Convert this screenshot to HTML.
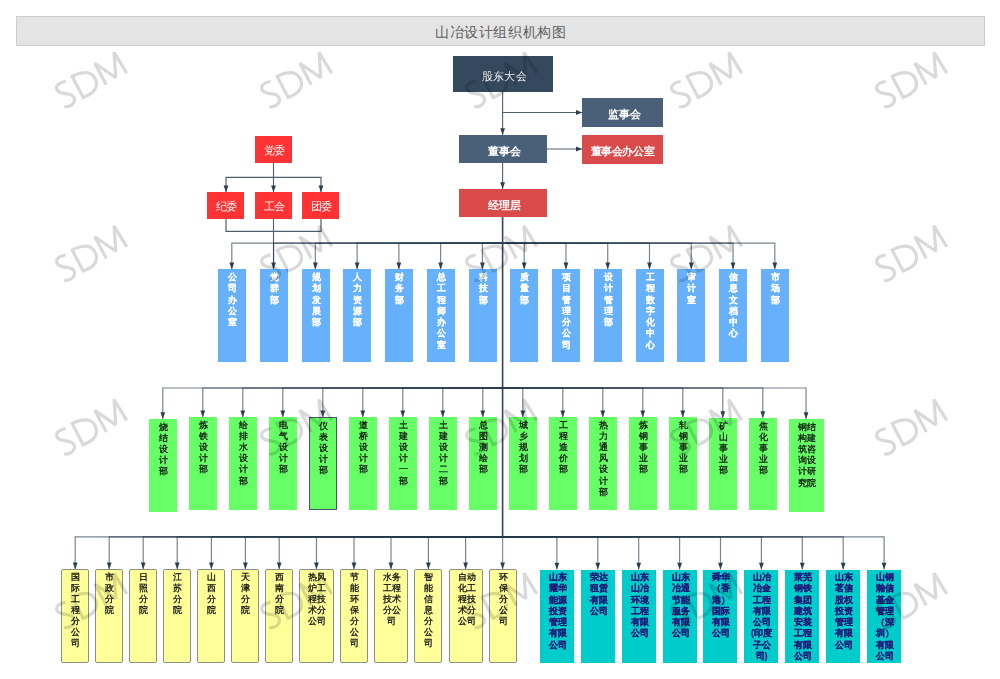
<!DOCTYPE html>
<html><head><meta charset="utf-8">
<style>
html,body{margin:0;padding:0;background:#fff;}
body{width:1000px;height:679px;position:relative;overflow:hidden;font-family:"Liberation Sans", sans-serif;}
.bx{position:absolute;overflow:hidden;white-space:nowrap;will-change:transform;}
.title{position:absolute;left:16px;top:16px;width:969px;height:30px;box-sizing:border-box;background:#e4e4e4;border:1px solid #cdcdcd;color:#5e5e5e;font-size:14px;letter-spacing:0.6px;text-indent:0.6px;line-height:31px;text-align:center;}
svg{position:absolute;left:0;top:0;} .wmsvg{pointer-events:none;}
.wm{position:absolute;width:120px;height:40px;line-height:40px;text-align:center;font-size:41px;color:rgba(0,0,0,0.16);transform:rotate(-30deg) scaleX(0.86);letter-spacing:0px;white-space:nowrap;}
</style></head><body>
<div class="title">山冶设计组织机构图</div>
<svg width="1000" height="679" viewBox="0 0 1000 679"><line x1="502.6" y1="92" x2="502.6" y2="135" stroke="#4f5e70" stroke-width="1.1"/><polygon points="500.20000000000005,128.2 505.0,128.2 502.6,135" fill="#2e3e52"/><line x1="502.6" y1="112.5" x2="582" y2="112.5" stroke="#4f5e70" stroke-width="1.1"/><polygon points="576,109.9 576,115.1 582,112.5" fill="#2e3e52"/><line x1="546" y1="149" x2="582" y2="149" stroke="#4f5e70" stroke-width="1.1"/><polygon points="576,146.4 576,151.6 582,149" fill="#2e3e52"/><line x1="502.6" y1="163" x2="502.6" y2="189" stroke="#4f5e70" stroke-width="1.1"/><polygon points="500.20000000000005,182.2 505.0,182.2 502.6,189" fill="#2e3e52"/><line x1="273.5" y1="162.5" x2="273.5" y2="269.4" stroke="#4f5e70" stroke-width="1.1"/><polyline points="226,192.2 226,177.3 321,177.3 321,192.2" fill="none" stroke="#4f5e70" stroke-width="1.2"/><polygon points="223.6,185.39999999999998 228.4,185.39999999999998 226,192.2" fill="#2e3e52"/><polygon points="271.1,185.39999999999998 275.9,185.39999999999998 273.5,192.2" fill="#2e3e52"/><polygon points="318.6,185.39999999999998 323.4,185.39999999999998 321,192.2" fill="#2e3e52"/><polyline points="226,218.7 226,231.4 321,231.4 321,218.7" fill="none" stroke="#4f5e70" stroke-width="1.2"/><path d="M502.6,243.1 H231.8 V269.4" fill="none" stroke="rgba(40,56,78,0.62)" stroke-width="1.2"/><polygon points="229.4,262.59999999999997 234.20000000000002,262.59999999999997 231.8,269.4" fill="#2e3e52"/><path d="M502.6,243.1 H273.57 V269.4" fill="none" stroke="rgba(40,56,78,0.62)" stroke-width="1.2"/><polygon points="271.17,262.59999999999997 275.96999999999997,262.59999999999997 273.57,269.4" fill="#2e3e52"/><path d="M502.6,243.1 H315.34000000000003 V269.4" fill="none" stroke="rgba(40,56,78,0.62)" stroke-width="1.2"/><polygon points="312.94000000000005,262.59999999999997 317.74,262.59999999999997 315.34000000000003,269.4" fill="#2e3e52"/><path d="M502.6,243.1 H357.11 V269.4" fill="none" stroke="rgba(40,56,78,0.62)" stroke-width="1.2"/><polygon points="354.71000000000004,262.59999999999997 359.51,262.59999999999997 357.11,269.4" fill="#2e3e52"/><path d="M502.6,243.1 H398.88000000000005 V269.4" fill="none" stroke="rgba(40,56,78,0.62)" stroke-width="1.2"/><polygon points="396.4800000000001,262.59999999999997 401.28000000000003,262.59999999999997 398.88000000000005,269.4" fill="#2e3e52"/><path d="M502.6,243.1 H440.65000000000003 V269.4" fill="none" stroke="rgba(40,56,78,0.62)" stroke-width="1.2"/><polygon points="438.25000000000006,262.59999999999997 443.05,262.59999999999997 440.65000000000003,269.4" fill="#2e3e52"/><path d="M502.6,243.1 H482.42 V269.4" fill="none" stroke="rgba(40,56,78,0.62)" stroke-width="1.2"/><polygon points="480.02000000000004,262.59999999999997 484.82,262.59999999999997 482.42,269.4" fill="#2e3e52"/><path d="M502.6,243.1 H524.19 V269.4" fill="none" stroke="rgba(40,56,78,0.62)" stroke-width="1.2"/><polygon points="521.7900000000001,262.59999999999997 526.59,262.59999999999997 524.19,269.4" fill="#2e3e52"/><path d="M502.6,243.1 H565.96 V269.4" fill="none" stroke="rgba(40,56,78,0.62)" stroke-width="1.2"/><polygon points="563.5600000000001,262.59999999999997 568.36,262.59999999999997 565.96,269.4" fill="#2e3e52"/><path d="M502.6,243.1 H607.73 V269.4" fill="none" stroke="rgba(40,56,78,0.62)" stroke-width="1.2"/><polygon points="605.33,262.59999999999997 610.13,262.59999999999997 607.73,269.4" fill="#2e3e52"/><path d="M502.6,243.1 H649.5 V269.4" fill="none" stroke="rgba(40,56,78,0.62)" stroke-width="1.2"/><polygon points="647.1,262.59999999999997 651.9,262.59999999999997 649.5,269.4" fill="#2e3e52"/><path d="M502.6,243.1 H691.27 V269.4" fill="none" stroke="rgba(40,56,78,0.62)" stroke-width="1.2"/><polygon points="688.87,262.59999999999997 693.67,262.59999999999997 691.27,269.4" fill="#2e3e52"/><path d="M502.6,243.1 H733.04 V269.4" fill="none" stroke="rgba(40,56,78,0.62)" stroke-width="1.2"/><polygon points="730.64,262.59999999999997 735.4399999999999,262.59999999999997 733.04,269.4" fill="#2e3e52"/><path d="M502.6,243.1 H774.81 V269.4" fill="none" stroke="rgba(40,56,78,0.62)" stroke-width="1.2"/><polygon points="772.41,262.59999999999997 777.2099999999999,262.59999999999997 774.81,269.4" fill="#2e3e52"/><line x1="502.6" y1="217" x2="502.6" y2="536.9" stroke="#34445a" stroke-width="1.6"/><line x1="502.6" y1="536.9" x2="502.6" y2="569.0" stroke="#8590a0" stroke-width="1.3"/><path d="M502.6,388.0 H162.8 V419" fill="none" stroke="rgba(40,56,78,0.62)" stroke-width="1.2"/><polygon points="160.4,412.2 165.20000000000002,412.2 162.8,419" fill="#2e3e52"/><path d="M502.6,388.0 H202.8 V417.2" fill="none" stroke="rgba(40,56,78,0.62)" stroke-width="1.2"/><polygon points="200.4,410.4 205.20000000000002,410.4 202.8,417.2" fill="#2e3e52"/><path d="M502.6,388.0 H242.8 V417.2" fill="none" stroke="rgba(40,56,78,0.62)" stroke-width="1.2"/><polygon points="240.4,410.4 245.20000000000002,410.4 242.8,417.2" fill="#2e3e52"/><path d="M502.6,388.0 H282.8 V417.2" fill="none" stroke="rgba(40,56,78,0.62)" stroke-width="1.2"/><polygon points="280.40000000000003,410.4 285.2,410.4 282.8,417.2" fill="#2e3e52"/><path d="M502.6,388.0 H322.8 V417.2" fill="none" stroke="rgba(40,56,78,0.62)" stroke-width="1.2"/><polygon points="320.40000000000003,410.4 325.2,410.4 322.8,417.2" fill="#2e3e52"/><path d="M502.6,388.0 H362.8 V417.2" fill="none" stroke="rgba(40,56,78,0.62)" stroke-width="1.2"/><polygon points="360.40000000000003,410.4 365.2,410.4 362.8,417.2" fill="#2e3e52"/><path d="M502.6,388.0 H402.8 V417.2" fill="none" stroke="rgba(40,56,78,0.62)" stroke-width="1.2"/><polygon points="400.40000000000003,410.4 405.2,410.4 402.8,417.2" fill="#2e3e52"/><path d="M502.6,388.0 H442.8 V417.2" fill="none" stroke="rgba(40,56,78,0.62)" stroke-width="1.2"/><polygon points="440.40000000000003,410.4 445.2,410.4 442.8,417.2" fill="#2e3e52"/><path d="M502.6,388.0 H482.8 V417.2" fill="none" stroke="rgba(40,56,78,0.62)" stroke-width="1.2"/><polygon points="480.40000000000003,410.4 485.2,410.4 482.8,417.2" fill="#2e3e52"/><path d="M502.6,388.0 H522.8 V417.2" fill="none" stroke="rgba(40,56,78,0.62)" stroke-width="1.2"/><polygon points="520.4,410.4 525.1999999999999,410.4 522.8,417.2" fill="#2e3e52"/><path d="M502.6,388.0 H562.8 V417.2" fill="none" stroke="rgba(40,56,78,0.62)" stroke-width="1.2"/><polygon points="560.4,410.4 565.1999999999999,410.4 562.8,417.2" fill="#2e3e52"/><path d="M502.6,388.0 H602.8 V417.2" fill="none" stroke="rgba(40,56,78,0.62)" stroke-width="1.2"/><polygon points="600.4,410.4 605.1999999999999,410.4 602.8,417.2" fill="#2e3e52"/><path d="M502.6,388.0 H642.8 V417.2" fill="none" stroke="rgba(40,56,78,0.62)" stroke-width="1.2"/><polygon points="640.4,410.4 645.1999999999999,410.4 642.8,417.2" fill="#2e3e52"/><path d="M502.6,388.0 H682.8 V417.2" fill="none" stroke="rgba(40,56,78,0.62)" stroke-width="1.2"/><polygon points="680.4,410.4 685.1999999999999,410.4 682.8,417.2" fill="#2e3e52"/><path d="M502.6,388.0 H722.8 V418" fill="none" stroke="rgba(40,56,78,0.62)" stroke-width="1.2"/><polygon points="720.4,411.2 725.1999999999999,411.2 722.8,418" fill="#2e3e52"/><path d="M502.6,388.0 H762.8 V418" fill="none" stroke="rgba(40,56,78,0.62)" stroke-width="1.2"/><polygon points="760.4,411.2 765.1999999999999,411.2 762.8,418" fill="#2e3e52"/><path d="M502.6,388.0 H806.05 V419" fill="none" stroke="rgba(40,56,78,0.62)" stroke-width="1.2"/><polygon points="803.65,412.2 808.4499999999999,412.2 806.05,419" fill="#2e3e52"/><path d="M502.6,536.9 H75.2 V569.2" fill="none" stroke="rgba(40,56,78,0.62)" stroke-width="1.2"/><polygon points="72.8,562.4000000000001 77.60000000000001,562.4000000000001 75.2,569.2" fill="#2e3e52"/><path d="M502.6,536.9 H109.2 V569.2" fill="none" stroke="rgba(40,56,78,0.62)" stroke-width="1.2"/><polygon points="106.8,562.4000000000001 111.60000000000001,562.4000000000001 109.2,569.2" fill="#2e3e52"/><path d="M502.6,536.9 H143.2 V569.2" fill="none" stroke="rgba(40,56,78,0.62)" stroke-width="1.2"/><polygon points="140.79999999999998,562.4000000000001 145.6,562.4000000000001 143.2,569.2" fill="#2e3e52"/><path d="M502.6,536.9 H177.2 V569.2" fill="none" stroke="rgba(40,56,78,0.62)" stroke-width="1.2"/><polygon points="174.79999999999998,562.4000000000001 179.6,562.4000000000001 177.2,569.2" fill="#2e3e52"/><path d="M502.6,536.9 H211.4 V569.2" fill="none" stroke="rgba(40,56,78,0.62)" stroke-width="1.2"/><polygon points="209.0,562.4000000000001 213.8,562.4000000000001 211.4,569.2" fill="#2e3e52"/><path d="M502.6,536.9 H245.4 V569.2" fill="none" stroke="rgba(40,56,78,0.62)" stroke-width="1.2"/><polygon points="243.0,562.4000000000001 247.8,562.4000000000001 245.4,569.2" fill="#2e3e52"/><path d="M502.6,536.9 H279.2 V569.2" fill="none" stroke="rgba(40,56,78,0.62)" stroke-width="1.2"/><polygon points="276.8,562.4000000000001 281.59999999999997,562.4000000000001 279.2,569.2" fill="#2e3e52"/><path d="M502.6,536.9 H316.45 V569.2" fill="none" stroke="rgba(40,56,78,0.62)" stroke-width="1.2"/><polygon points="314.05,562.4000000000001 318.84999999999997,562.4000000000001 316.45,569.2" fill="#2e3e52"/><path d="M502.6,536.9 H354.0 V569.2" fill="none" stroke="rgba(40,56,78,0.62)" stroke-width="1.2"/><polygon points="351.6,562.4000000000001 356.4,562.4000000000001 354.0,569.2" fill="#2e3e52"/><path d="M502.6,536.9 H391.0 V569.2" fill="none" stroke="rgba(40,56,78,0.62)" stroke-width="1.2"/><polygon points="388.6,562.4000000000001 393.4,562.4000000000001 391.0,569.2" fill="#2e3e52"/><path d="M502.6,536.9 H428.4 V569.2" fill="none" stroke="rgba(40,56,78,0.62)" stroke-width="1.2"/><polygon points="426.0,562.4000000000001 430.79999999999995,562.4000000000001 428.4,569.2" fill="#2e3e52"/><path d="M502.6,536.9 H465.6 V569.2" fill="none" stroke="rgba(40,56,78,0.62)" stroke-width="1.2"/><polygon points="463.20000000000005,562.4000000000001 468.0,562.4000000000001 465.6,569.2" fill="#2e3e52"/><polygon points="500.20000000000005,562.4000000000001 505.0,562.4000000000001 502.6,569.2" fill="#2e3e52"/><path d="M502.6,536.9 H556.9 V569.6" fill="none" stroke="rgba(40,56,78,0.62)" stroke-width="1.2"/><polygon points="554.5,562.8000000000001 559.3,562.8000000000001 556.9,569.6" fill="#2e3e52"/><path d="M502.6,536.9 H597.8 V569.6" fill="none" stroke="rgba(40,56,78,0.62)" stroke-width="1.2"/><polygon points="595.4,562.8000000000001 600.1999999999999,562.8000000000001 597.8,569.6" fill="#2e3e52"/><path d="M502.6,536.9 H638.6999999999999 V569.6" fill="none" stroke="rgba(40,56,78,0.62)" stroke-width="1.2"/><polygon points="636.3,562.8000000000001 641.0999999999999,562.8000000000001 638.6999999999999,569.6" fill="#2e3e52"/><path d="M502.6,536.9 H679.6 V569.6" fill="none" stroke="rgba(40,56,78,0.62)" stroke-width="1.2"/><polygon points="677.2,562.8000000000001 682.0,562.8000000000001 679.6,569.6" fill="#2e3e52"/><path d="M502.6,536.9 H720.5 V569.6" fill="none" stroke="rgba(40,56,78,0.62)" stroke-width="1.2"/><polygon points="718.1,562.8000000000001 722.9,562.8000000000001 720.5,569.6" fill="#2e3e52"/><path d="M502.6,536.9 H761.4 V569.6" fill="none" stroke="rgba(40,56,78,0.62)" stroke-width="1.2"/><polygon points="759.0,562.8000000000001 763.8,562.8000000000001 761.4,569.6" fill="#2e3e52"/><path d="M502.6,536.9 H802.3 V569.6" fill="none" stroke="rgba(40,56,78,0.62)" stroke-width="1.2"/><polygon points="799.9,562.8000000000001 804.6999999999999,562.8000000000001 802.3,569.6" fill="#2e3e52"/><path d="M502.6,536.9 H843.1999999999999 V569.6" fill="none" stroke="rgba(40,56,78,0.62)" stroke-width="1.2"/><polygon points="840.8,562.8000000000001 845.5999999999999,562.8000000000001 843.1999999999999,569.6" fill="#2e3e52"/><path d="M502.6,536.9 H884.1 V569.6" fill="none" stroke="rgba(40,56,78,0.62)" stroke-width="1.2"/><polygon points="881.7,562.8000000000001 886.5,562.8000000000001 884.1,569.6" fill="#2e3e52"/></svg>
<div class="bx" style="left:453px;top:56px;width:99.5px;height:36px;background:#34495e;color:#fff;font-size:11px;font-weight:normal;border-radius:0px;letter-spacing:0.4px;text-indent:0.4px;"><div style="position:absolute;left:0;right:0;top:calc(50% + 2px);transform:translateY(-50%);text-align:center;padding-left:3.0px;line-height:12px">股东大会</div></div><div class="bx" style="left:582px;top:98px;width:81px;height:28.5px;background:#4a5f78;color:#fff;font-size:11px;font-weight:bold;border-radius:0px;"><div style="position:absolute;left:0;right:0;top:calc(50% + 2px);transform:translateY(-50%);text-align:center;padding-left:4px;line-height:12px">监事会</div></div><div class="bx" style="left:459px;top:135px;width:87.5px;height:28px;background:#4a5f78;color:#fff;font-size:11px;font-weight:bold;border-radius:0px;"><div style="position:absolute;left:0;right:0;top:calc(50% + 2px);transform:translateY(-50%);text-align:center;padding-left:4px;line-height:12px">董事会</div></div><div class="bx" style="left:582px;top:135px;width:81px;height:28.5px;background:#d94a4a;color:#fff;font-size:11px;font-weight:bold;border-radius:0px;letter-spacing:-0.4px;text-indent:-0.4px;"><div style="position:absolute;left:0;right:0;top:calc(50% + 2px);transform:translateY(-50%);text-align:center;padding-left:0px;line-height:12px">董事会办公室</div></div><div class="bx" style="left:459px;top:189px;width:87.5px;height:28px;background:#d94a4a;color:#fff;font-size:11px;font-weight:bold;border-radius:0px;"><div style="position:absolute;left:0;right:0;top:calc(50% + 2px);transform:translateY(-50%);text-align:center;padding-left:4px;line-height:12px">经理层</div></div><div class="bx" style="left:255px;top:136px;width:37px;height:26.5px;background:#ff3333;color:#fff;font-size:11px;font-weight:normal;border-radius:0px;letter-spacing:-0.5px;text-indent:-0.5px;"><div style="position:absolute;left:0;right:0;top:calc(50% + 1px);transform:translateY(-50%);text-align:center;padding-left:2px;line-height:11px">党委</div></div><div class="bx" style="left:207.4px;top:192.2px;width:37px;height:26.5px;background:#ff3333;color:#fff;font-size:11px;font-weight:normal;border-radius:0px;letter-spacing:-0.5px;text-indent:-0.5px;"><div style="position:absolute;left:0;right:0;top:calc(50% + 1px);transform:translateY(-50%);text-align:center;padding-left:2px;line-height:11px">纪委</div></div><div class="bx" style="left:255px;top:192.2px;width:37px;height:26.5px;background:#ff3333;color:#fff;font-size:11px;font-weight:normal;border-radius:0px;letter-spacing:-0.5px;text-indent:-0.5px;"><div style="position:absolute;left:0;right:0;top:calc(50% + 1px);transform:translateY(-50%);text-align:center;padding-left:2px;line-height:11px">工会</div></div><div class="bx" style="left:302.4px;top:192.2px;width:37px;height:26.5px;background:#ff3333;color:#fff;font-size:11px;font-weight:normal;border-radius:0px;letter-spacing:-0.5px;text-indent:-0.5px;"><div style="position:absolute;left:0;right:0;top:calc(50% + 1px);transform:translateY(-50%);text-align:center;padding-left:2px;line-height:11px">团委</div></div><div class="bx" style="left:218.0px;top:269.4px;width:27.6px;height:93.2px;background:#66b0fc;color:#fff;font-size:9px;font-weight:bold;border-radius:0px;-webkit-text-stroke:0.1px #fff;"><div style="padding-top:3.0px;padding-left:1px;text-align:center;line-height:11.3px">公<br>司<br>办<br>公<br>室</div></div><div class="bx" style="left:259.77px;top:269.4px;width:27.6px;height:93.2px;background:#66b0fc;color:#fff;font-size:9px;font-weight:bold;border-radius:0px;-webkit-text-stroke:0.1px #fff;"><div style="padding-top:3.0px;padding-left:1px;text-align:center;line-height:11.3px">党<br>群<br>部</div></div><div class="bx" style="left:301.54px;top:269.4px;width:27.6px;height:93.2px;background:#66b0fc;color:#fff;font-size:9px;font-weight:bold;border-radius:0px;-webkit-text-stroke:0.1px #fff;"><div style="padding-top:3.0px;padding-left:1px;text-align:center;line-height:11.3px">规<br>划<br>发<br>展<br>部</div></div><div class="bx" style="left:343.31px;top:269.4px;width:27.6px;height:93.2px;background:#66b0fc;color:#fff;font-size:9px;font-weight:bold;border-radius:0px;-webkit-text-stroke:0.1px #fff;"><div style="padding-top:3.0px;padding-left:1px;text-align:center;line-height:11.3px">人<br>力<br>资<br>源<br>部</div></div><div class="bx" style="left:385.08px;top:269.4px;width:27.6px;height:93.2px;background:#66b0fc;color:#fff;font-size:9px;font-weight:bold;border-radius:0px;-webkit-text-stroke:0.1px #fff;"><div style="padding-top:3.0px;padding-left:1px;text-align:center;line-height:11.3px">财<br>务<br>部</div></div><div class="bx" style="left:426.85px;top:269.4px;width:27.6px;height:93.2px;background:#66b0fc;color:#fff;font-size:9px;font-weight:bold;border-radius:0px;-webkit-text-stroke:0.1px #fff;"><div style="padding-top:3.0px;padding-left:1px;text-align:center;line-height:11.3px">总<br>工<br>程<br>师<br>办<br>公<br>室</div></div><div class="bx" style="left:468.62px;top:269.4px;width:27.6px;height:93.2px;background:#66b0fc;color:#fff;font-size:9px;font-weight:bold;border-radius:0px;-webkit-text-stroke:0.1px #fff;"><div style="padding-top:3.0px;padding-left:1px;text-align:center;line-height:11.3px">科<br>技<br>部</div></div><div class="bx" style="left:510.39px;top:269.4px;width:27.6px;height:93.2px;background:#66b0fc;color:#fff;font-size:9px;font-weight:bold;border-radius:0px;-webkit-text-stroke:0.1px #fff;"><div style="padding-top:3.0px;padding-left:1px;text-align:center;line-height:11.3px">质<br>量<br>部</div></div><div class="bx" style="left:552.16px;top:269.4px;width:27.6px;height:93.2px;background:#66b0fc;color:#fff;font-size:9px;font-weight:bold;border-radius:0px;-webkit-text-stroke:0.1px #fff;"><div style="padding-top:3.0px;padding-left:1px;text-align:center;line-height:11.3px">项<br>目<br>管<br>理<br>分<br>公<br>司</div></div><div class="bx" style="left:593.93px;top:269.4px;width:27.6px;height:93.2px;background:#66b0fc;color:#fff;font-size:9px;font-weight:bold;border-radius:0px;-webkit-text-stroke:0.1px #fff;"><div style="padding-top:3.0px;padding-left:1px;text-align:center;line-height:11.3px">设<br>计<br>管<br>理<br>部</div></div><div class="bx" style="left:635.7px;top:269.4px;width:27.6px;height:93.2px;background:#66b0fc;color:#fff;font-size:9px;font-weight:bold;border-radius:0px;-webkit-text-stroke:0.1px #fff;"><div style="padding-top:3.0px;padding-left:1px;text-align:center;line-height:11.3px">工<br>程<br>数<br>字<br>化<br>中<br>心</div></div><div class="bx" style="left:677.47px;top:269.4px;width:27.6px;height:93.2px;background:#66b0fc;color:#fff;font-size:9px;font-weight:bold;border-radius:0px;-webkit-text-stroke:0.1px #fff;"><div style="padding-top:3.0px;padding-left:1px;text-align:center;line-height:11.3px">审<br>计<br>室</div></div><div class="bx" style="left:719.24px;top:269.4px;width:27.6px;height:93.2px;background:#66b0fc;color:#fff;font-size:9px;font-weight:bold;border-radius:0px;-webkit-text-stroke:0.1px #fff;"><div style="padding-top:3.0px;padding-left:1px;text-align:center;line-height:11.3px">信<br>息<br>文<br>档<br>中<br>心</div></div><div class="bx" style="left:761.01px;top:269.4px;width:27.6px;height:93.2px;background:#66b0fc;color:#fff;font-size:9px;font-weight:bold;border-radius:0px;-webkit-text-stroke:0.1px #fff;"><div style="padding-top:3.0px;padding-left:1px;text-align:center;line-height:11.3px">市<br>场<br>部</div></div><div class="bx" style="left:148.8px;top:419px;width:28.0px;height:92.60000000000002px;background:#66ff66;color:#111;font-size:9px;font-weight:normal;border-radius:0px;-webkit-text-stroke:0.3px #111;"><div style="padding-top:2.6px;padding-left:1px;text-align:center;line-height:11.2px">烧<br>结<br>设<br>计<br>部</div></div><div class="bx" style="left:188.8px;top:417.2px;width:28.0px;height:93.19999999999999px;background:#66ff66;color:#111;font-size:9px;font-weight:normal;border-radius:0px;-webkit-text-stroke:0.3px #111;"><div style="padding-top:2.6px;padding-left:1px;text-align:center;line-height:11.2px">炼<br>铁<br>设<br>计<br>部</div></div><div class="bx" style="left:228.8px;top:417.2px;width:28.0px;height:93.19999999999999px;background:#66ff66;color:#111;font-size:9px;font-weight:normal;border-radius:0px;-webkit-text-stroke:0.3px #111;"><div style="padding-top:2.6px;padding-left:1px;text-align:center;line-height:11.2px">给<br>排<br>水<br>设<br>计<br>部</div></div><div class="bx" style="left:268.8px;top:417.2px;width:28.0px;height:93.19999999999999px;background:#66ff66;color:#111;font-size:9px;font-weight:normal;border-radius:0px;-webkit-text-stroke:0.3px #111;"><div style="padding-top:2.6px;padding-left:1px;text-align:center;line-height:11.2px">电<br>气<br>设<br>计<br>部</div></div><div class="bx" style="left:308.8px;top:417.2px;width:28.0px;height:93.19999999999999px;background:#66ff66;color:#111;font-size:9px;font-weight:normal;border-radius:0px;border:1px solid #4a5563;box-sizing:border-box;-webkit-text-stroke:0.3px #111;"><div style="padding-top:2.6px;padding-left:1px;text-align:center;line-height:11.2px">仪<br>表<br>设<br>计<br>部</div></div><div class="bx" style="left:348.8px;top:417.2px;width:28.0px;height:93.19999999999999px;background:#66ff66;color:#111;font-size:9px;font-weight:normal;border-radius:0px;-webkit-text-stroke:0.3px #111;"><div style="padding-top:2.6px;padding-left:1px;text-align:center;line-height:11.2px">道<br>桥<br>设<br>计<br>部</div></div><div class="bx" style="left:388.8px;top:417.2px;width:28.0px;height:93.19999999999999px;background:#66ff66;color:#111;font-size:9px;font-weight:normal;border-radius:0px;-webkit-text-stroke:0.3px #111;"><div style="padding-top:2.6px;padding-left:1px;text-align:center;line-height:11.2px">土<br>建<br>设<br>计<br>一<br>部</div></div><div class="bx" style="left:428.8px;top:417.2px;width:28.0px;height:93.19999999999999px;background:#66ff66;color:#111;font-size:9px;font-weight:normal;border-radius:0px;-webkit-text-stroke:0.3px #111;"><div style="padding-top:2.6px;padding-left:1px;text-align:center;line-height:11.2px">土<br>建<br>设<br>计<br>二<br>部</div></div><div class="bx" style="left:468.8px;top:417.2px;width:28.0px;height:93.19999999999999px;background:#66ff66;color:#111;font-size:9px;font-weight:normal;border-radius:0px;-webkit-text-stroke:0.3px #111;"><div style="padding-top:2.6px;padding-left:1px;text-align:center;line-height:11.2px">总<br>图<br>测<br>绘<br>部</div></div><div class="bx" style="left:508.8px;top:417.2px;width:28.0px;height:93.19999999999999px;background:#66ff66;color:#111;font-size:9px;font-weight:normal;border-radius:0px;-webkit-text-stroke:0.3px #111;"><div style="padding-top:2.6px;padding-left:1px;text-align:center;line-height:11.2px">城<br>乡<br>规<br>划<br>部</div></div><div class="bx" style="left:548.8px;top:417.2px;width:28.0px;height:93.19999999999999px;background:#66ff66;color:#111;font-size:9px;font-weight:normal;border-radius:0px;-webkit-text-stroke:0.3px #111;"><div style="padding-top:2.6px;padding-left:1px;text-align:center;line-height:11.2px">工<br>程<br>造<br>价<br>部</div></div><div class="bx" style="left:588.8px;top:417.2px;width:28.0px;height:93.19999999999999px;background:#66ff66;color:#111;font-size:9px;font-weight:normal;border-radius:0px;-webkit-text-stroke:0.3px #111;"><div style="padding-top:2.6px;padding-left:1px;text-align:center;line-height:11.2px">热<br>力<br>通<br>风<br>设<br>计<br>部</div></div><div class="bx" style="left:628.8px;top:417.2px;width:28.0px;height:93.19999999999999px;background:#66ff66;color:#111;font-size:9px;font-weight:normal;border-radius:0px;-webkit-text-stroke:0.3px #111;"><div style="padding-top:2.6px;padding-left:1px;text-align:center;line-height:11.2px">炼<br>钢<br>事<br>业<br>部</div></div><div class="bx" style="left:668.8px;top:417.2px;width:28.0px;height:93.19999999999999px;background:#66ff66;color:#111;font-size:9px;font-weight:normal;border-radius:0px;-webkit-text-stroke:0.3px #111;"><div style="padding-top:2.6px;padding-left:1px;text-align:center;line-height:11.2px">轧<br>钢<br>事<br>业<br>部</div></div><div class="bx" style="left:708.8px;top:418px;width:28.0px;height:92.39999999999998px;background:#66ff66;color:#111;font-size:9px;font-weight:normal;border-radius:0px;-webkit-text-stroke:0.3px #111;"><div style="padding-top:2.6px;padding-left:1px;text-align:center;line-height:11.2px">矿<br>山<br>事<br>业<br>部</div></div><div class="bx" style="left:748.8px;top:418px;width:28.0px;height:92.39999999999998px;background:#66ff66;color:#111;font-size:9px;font-weight:normal;border-radius:0px;-webkit-text-stroke:0.3px #111;"><div style="padding-top:2.6px;padding-left:1px;text-align:center;line-height:11.2px">焦<br>化<br>事<br>业<br>部</div></div><div class="bx" style="left:788.8px;top:419px;width:34.5px;height:92.60000000000002px;background:#66ff66;color:#111;font-size:9px;font-weight:normal;border-radius:0px;-webkit-text-stroke:0.3px #111;"><div style="padding-top:2.6px;padding-left:1px;text-align:center;line-height:11.2px">钢结<br>构建<br>筑咨<br>询设<br>计研<br>究院</div></div><div class="bx" style="left:61.2px;top:569.0px;width:28px;height:94px;background:#ffff99;color:#111;font-size:9px;font-weight:normal;border-radius:2px;border:1px solid #8a8f88;box-sizing:border-box;-webkit-text-stroke:0.3px #111;"><div style="padding-top:1.65px;padding-left:1px;text-align:center;line-height:11.0px">国<br>际<br>工<br>程<br>分<br>公<br>司</div></div><div class="bx" style="left:95.2px;top:569.0px;width:28px;height:94px;background:#ffff99;color:#111;font-size:9px;font-weight:normal;border-radius:2px;border:1px solid #8a8f88;box-sizing:border-box;-webkit-text-stroke:0.3px #111;"><div style="padding-top:1.65px;padding-left:1px;text-align:center;line-height:11.0px">市<br>政<br>分<br>院</div></div><div class="bx" style="left:129.2px;top:569.0px;width:28px;height:94px;background:#ffff99;color:#111;font-size:9px;font-weight:normal;border-radius:2px;border:1px solid #8a8f88;box-sizing:border-box;-webkit-text-stroke:0.3px #111;"><div style="padding-top:1.65px;padding-left:1px;text-align:center;line-height:11.0px">日<br>照<br>分<br>院</div></div><div class="bx" style="left:163.2px;top:569.0px;width:28px;height:94px;background:#ffff99;color:#111;font-size:9px;font-weight:normal;border-radius:2px;border:1px solid #8a8f88;box-sizing:border-box;-webkit-text-stroke:0.3px #111;"><div style="padding-top:1.65px;padding-left:1px;text-align:center;line-height:11.0px">江<br>苏<br>分<br>院</div></div><div class="bx" style="left:197.4px;top:569.0px;width:28px;height:94px;background:#ffff99;color:#111;font-size:9px;font-weight:normal;border-radius:2px;border:1px solid #8a8f88;box-sizing:border-box;-webkit-text-stroke:0.3px #111;"><div style="padding-top:1.65px;padding-left:1px;text-align:center;line-height:11.0px">山<br>西<br>分<br>院</div></div><div class="bx" style="left:231.4px;top:569.0px;width:28px;height:94px;background:#ffff99;color:#111;font-size:9px;font-weight:normal;border-radius:2px;border:1px solid #8a8f88;box-sizing:border-box;-webkit-text-stroke:0.3px #111;"><div style="padding-top:1.65px;padding-left:1px;text-align:center;line-height:11.0px">天<br>津<br>分<br>院</div></div><div class="bx" style="left:265.2px;top:569.0px;width:28px;height:94px;background:#ffff99;color:#111;font-size:9px;font-weight:normal;border-radius:2px;border:1px solid #8a8f88;box-sizing:border-box;-webkit-text-stroke:0.3px #111;"><div style="padding-top:1.65px;padding-left:1px;text-align:center;line-height:11.0px">西<br>南<br>分<br>院</div></div><div class="bx" style="left:299.2px;top:569.0px;width:34.5px;height:94px;background:#ffff99;color:#111;font-size:9px;font-weight:normal;border-radius:2px;border:1px solid #8a8f88;box-sizing:border-box;-webkit-text-stroke:0.3px #111;"><div style="padding-top:1.65px;padding-left:1px;text-align:center;line-height:11.0px">热风<br>炉工<br>程技<br>术分<br>公司</div></div><div class="bx" style="left:340px;top:569.0px;width:28px;height:94px;background:#ffff99;color:#111;font-size:9px;font-weight:normal;border-radius:2px;border:1px solid #8a8f88;box-sizing:border-box;-webkit-text-stroke:0.3px #111;"><div style="padding-top:1.65px;padding-left:1px;text-align:center;line-height:11.0px">节<br>能<br>环<br>保<br>分<br>公<br>司</div></div><div class="bx" style="left:374px;top:569.0px;width:34px;height:94px;background:#ffff99;color:#111;font-size:9px;font-weight:normal;border-radius:2px;border:1px solid #8a8f88;box-sizing:border-box;-webkit-text-stroke:0.3px #111;"><div style="padding-top:1.65px;padding-left:1px;text-align:center;line-height:11.0px">水务<br>工程<br>技术<br>分公<br>司</div></div><div class="bx" style="left:414.4px;top:569.0px;width:28px;height:94px;background:#ffff99;color:#111;font-size:9px;font-weight:normal;border-radius:2px;border:1px solid #8a8f88;box-sizing:border-box;-webkit-text-stroke:0.3px #111;"><div style="padding-top:1.65px;padding-left:1px;text-align:center;line-height:11.0px">智<br>能<br>信<br>息<br>分<br>公<br>司</div></div><div class="bx" style="left:448.6px;top:569.0px;width:34px;height:94px;background:#ffff99;color:#111;font-size:9px;font-weight:normal;border-radius:2px;border:1px solid #8a8f88;box-sizing:border-box;-webkit-text-stroke:0.3px #111;"><div style="padding-top:1.65px;padding-left:1px;text-align:center;line-height:11.0px">自动<br>化工<br>程技<br>术分<br>公司</div></div><div class="bx" style="left:489px;top:569.0px;width:28px;height:94px;background:#ffff99;color:#111;font-size:9px;font-weight:normal;border-radius:2px;border:1px solid #8a8f88;box-sizing:border-box;-webkit-text-stroke:0.3px #111;"><div style="padding-top:1.65px;padding-left:1px;text-align:center;line-height:11.0px">环<br>保<br>分<br>公<br>司</div></div><div class="bx" style="left:539.8px;top:569.6px;width:34.2px;height:93px;background:#00cccc;color:#1e1e7a;font-size:9px;font-weight:bold;border-radius:0px;-webkit-text-stroke:0.25px #1e1e7a;"><div style="padding-top:2.0px;padding-left:1px;text-align:center;line-height:11.25px">山东<br>耀华<br>能源<br>投资<br>管理<br>有限<br>公司</div></div><div class="bx" style="left:580.7px;top:569.6px;width:34.2px;height:93px;background:#00cccc;color:#1e1e7a;font-size:9px;font-weight:bold;border-radius:0px;-webkit-text-stroke:0.25px #1e1e7a;"><div style="padding-top:2.0px;padding-left:1px;text-align:center;line-height:11.25px">荣达<br>租赁<br>有限<br>公司</div></div><div class="bx" style="left:621.6px;top:569.6px;width:34.2px;height:93px;background:#00cccc;color:#1e1e7a;font-size:9px;font-weight:bold;border-radius:0px;-webkit-text-stroke:0.25px #1e1e7a;"><div style="padding-top:2.0px;padding-left:1px;text-align:center;line-height:11.25px">山东<br>山冶<br>环境<br>工程<br>有限<br>公司</div></div><div class="bx" style="left:662.5px;top:569.6px;width:34.2px;height:93px;background:#00cccc;color:#1e1e7a;font-size:9px;font-weight:bold;border-radius:0px;-webkit-text-stroke:0.25px #1e1e7a;"><div style="padding-top:2.0px;padding-left:1px;text-align:center;line-height:11.25px">山东<br>冶通<br>节能<br>服务<br>有限<br>公司</div></div><div class="bx" style="left:703.4px;top:569.6px;width:34.2px;height:93px;background:#00cccc;color:#1e1e7a;font-size:9px;font-weight:bold;border-radius:0px;-webkit-text-stroke:0.25px #1e1e7a;"><div style="padding-top:2.0px;padding-left:1px;text-align:center;line-height:11.25px">舜华<br>（香<br>港）<br>国际<br>有限<br>公司</div></div><div class="bx" style="left:744.3px;top:569.6px;width:34.2px;height:93px;background:#00cccc;color:#1e1e7a;font-size:9px;font-weight:bold;border-radius:0px;-webkit-text-stroke:0.25px #1e1e7a;"><div style="padding-top:2.0px;padding-left:1px;text-align:center;line-height:11.25px">山冶<br>冶金<br>工程<br>有限<br>公司<br>(印度<br>子公<br>司)</div></div><div class="bx" style="left:785.2px;top:569.6px;width:34.2px;height:93px;background:#00cccc;color:#1e1e7a;font-size:9px;font-weight:bold;border-radius:0px;-webkit-text-stroke:0.25px #1e1e7a;"><div style="padding-top:2.0px;padding-left:1px;text-align:center;line-height:11.25px">莱芜<br>钢铁<br>集团<br>建筑<br>安装<br>工程<br>有限<br>公司</div></div><div class="bx" style="left:826.1px;top:569.6px;width:34.2px;height:93px;background:#00cccc;color:#1e1e7a;font-size:9px;font-weight:bold;border-radius:0px;-webkit-text-stroke:0.25px #1e1e7a;"><div style="padding-top:2.0px;padding-left:1px;text-align:center;line-height:11.25px">山东<br>茗信<br>股权<br>投资<br>管理<br>有限<br>公司</div></div><div class="bx" style="left:867.0px;top:569.6px;width:34.2px;height:93px;background:#00cccc;color:#1e1e7a;font-size:9px;font-weight:bold;border-radius:0px;-webkit-text-stroke:0.25px #1e1e7a;"><div style="padding-top:2.0px;padding-left:1px;text-align:center;line-height:11.25px">山钢<br>瀚信<br>基金<br>管理<br>（深<br>圳）<br>有限<br>公司</div></div>
<svg class="wmsvg" width="1000" height="679" viewBox="0 0 1000 679"><defs><path id="wm" d="M65.6,81.3 C61.5,82.2 56,84.5 56.6,88.5 C57.2,93 63.5,93.6 68.7,94.1 C73.2,94.6 75.6,98.3 74,102 C72.2,106 67.5,107.2 64.2,106.6 M72.2,76.4 L83.2,97.5 C88.5,95.5 95.5,92 96.4,85.8 C97.2,79.5 93,74.2 88.8,73 C84.5,71.8 77,73.4 72.2,76.4 Z M106.3,84.8 L94.8,63.2 L115.8,77.7 L114,52.3 L126.7,73.1" fill="none" stroke="rgba(0,0,0,0.15)" stroke-width="3.2" stroke-linejoin="miter" stroke-miterlimit="1.5"/></defs><use href="#wm" transform="translate(0,0.0)"/><use href="#wm" transform="translate(205,0.0)"/><use href="#wm" transform="translate(410,0.0)"/><use href="#wm" transform="translate(615,0.0)"/><use href="#wm" transform="translate(820,0.0)"/><use href="#wm" transform="translate(0,173.6)"/><use href="#wm" transform="translate(205,173.6)"/><use href="#wm" transform="translate(410,173.6)"/><use href="#wm" transform="translate(615,173.6)"/><use href="#wm" transform="translate(820,173.6)"/><use href="#wm" transform="translate(0,347.2)"/><use href="#wm" transform="translate(205,347.2)"/><use href="#wm" transform="translate(410,347.2)"/><use href="#wm" transform="translate(615,347.2)"/><use href="#wm" transform="translate(820,347.2)"/><use href="#wm" transform="translate(0,520.8)"/><use href="#wm" transform="translate(205,520.8)"/><use href="#wm" transform="translate(410,520.8)"/><use href="#wm" transform="translate(615,520.8)"/><use href="#wm" transform="translate(820,520.8)"/></svg>
</body></html>
